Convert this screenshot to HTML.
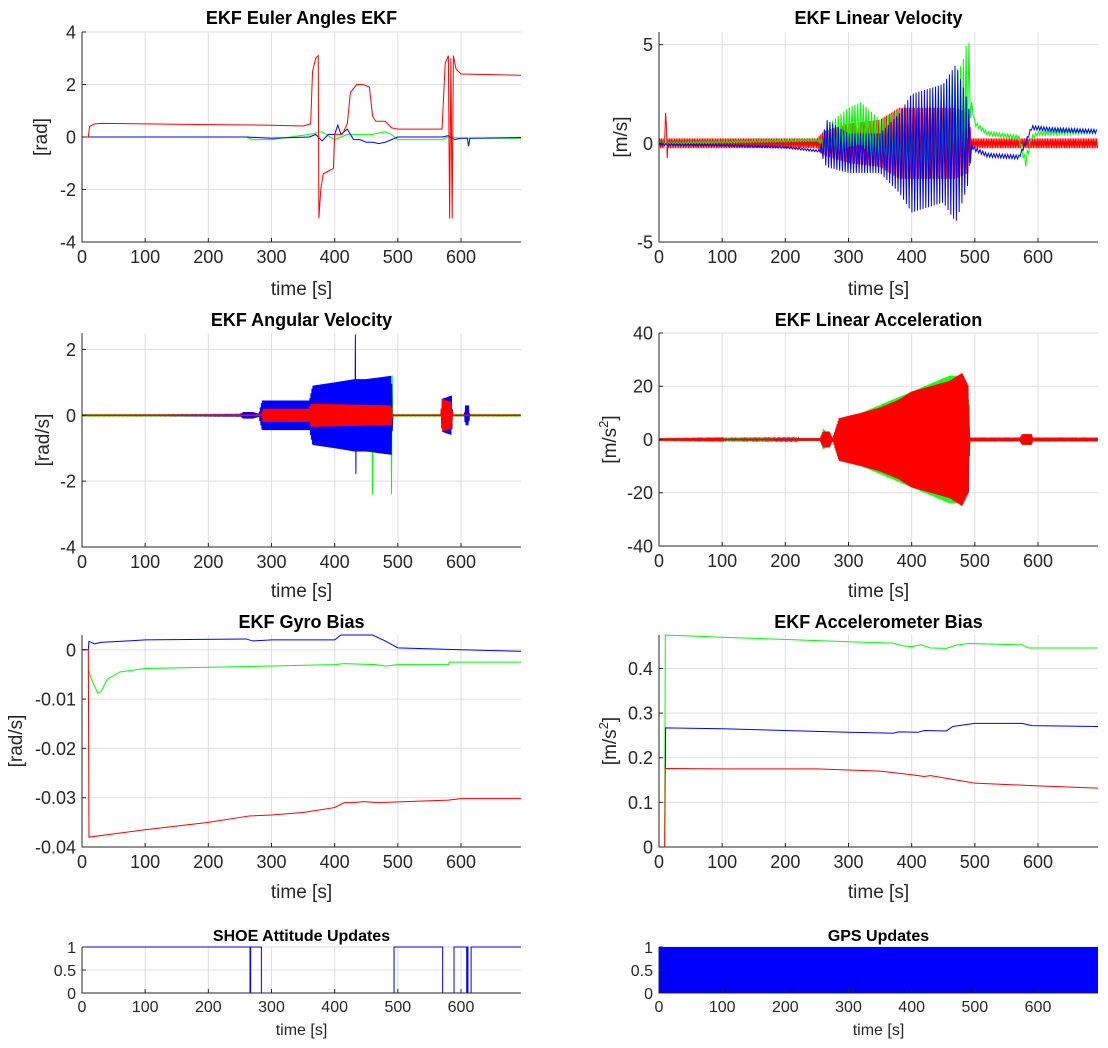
<!DOCTYPE html>
<html><head><meta charset="utf-8">
<style>
html,body{margin:0;padding:0;background:#fff;}
svg{display:block;font-family:"Liberation Sans",Arial,sans-serif;}
</style></head>
<body>
<svg id="fig" width="1108" height="1048" viewBox="0 0 1108 1048" xmlns="http://www.w3.org/2000/svg"></svg>
<script>
// ---------- shared axis data ----------
const xTicks = [0,100,200,300,400,500,600];
const xLim = [0,695];

// ---------- Panel 1: Euler angles ----------
const eulerRed = [[0,0],[10,0],[12,0.4],[20,0.5],[30,0.52],[100,0.5],[200,0.47],[300,0.45],[350,0.42],[362,0.5],[365,2.5],[370,3.0],[374,3.1],[375,-3.1],[378,-2.0],[382,-1.4],[390,-1.3],[398,-1.2],[400,0.1],[412,0.1],[420,0.5],[425,1.7],[435,2.0],[445,2.0],[455,1.9],[460,0.8],[465,0.6],[480,0.6],[490,0.35],[500,0.3],[570,0.3],[575,2.8],[580,3.1],[582,-3.1],[584,3.0],[586,-3.1],[588,3.1],[592,2.6],[600,2.4],[695,2.35]];
const eulerBlue = [[0,0],[260,0],[300,-0.05],[360,0],[370,0.1],[380,-0.15],[390,0.1],[400,0.1],[405,0.45],[410,0.1],[420,0.3],[430,-0.1],[440,-0.1],[450,-0.2],[460,-0.2],[470,-0.25],[480,-0.2],[490,-0.1],[500,0],[570,0],[580,0.05],[590,-0.1],[600,-0.05],[610,-0.05],[612,-0.35],[614,-0.05],[695,-0.02]];
const eulerGreen = [[0,0],[260,0],[270,-0.1],[300,-0.1],[360,0.1],[380,0.2],[400,-0.1],[420,0.1],[440,0.1],[460,0.1],[480,0.2],[490,0.1],[500,-0.1],[570,-0.1],[580,0],[600,-0.05],[695,-0.05]];

// ---------- Panel 2: linear velocity (base + noise envelope) ----------
const velRedBase = [[0,0],[10,0],[11,4.5],[12,-1],[14,0],[695,0]];
const velRedAmp = [[0,0.25],[250,0.25],[260,0.6],[300,1.0],[350,1.2],[380,1.8],[470,1.8],[490,1.5],[495,0.25],[695,0.25]];
const velGreenBase = [[0,0],[250,0.15],[260,0],[300,0.8],[320,1.0],[350,0],[380,0],[420,-0.5],[450,0.5],[480,1.5],[490,3],[500,1.0],[520,0.5],[570,0.3],[580,-1.0],[590,0.3],[600,0.5],[695,0.6]];
const velGreenAmp = [[0,0.05],[255,0.05],[265,0.8],[300,1.0],[350,1.2],[400,2.0],[450,2.5],[490,2.5],[495,0.1],[570,0.1],[580,0.3],[590,0.1],[695,0.1]];
const velBlueBase = [[0,-0.05],[100,-0.1],[200,-0.2],[255,-0.4],[265,0],[300,-0.5],[400,-0.5],[450,0],[490,0],[500,-0.3],[520,-0.6],[570,-0.7],[580,0],[590,0.8],[620,0.7],[695,0.6]];
const velBlueAmp = [[0,0.05],[255,0.05],[265,1.2],[300,1.0],[350,1.0],[380,2.0],[400,3.0],[450,3.0],[470,4.0],[490,2.0],[495,0.1],[695,0.1]];

// ---------- Panel 3: angular velocity ----------
const angZero = [[0,0],[695,0]];
const angGreenAmp = [[0,0.02],[285,0.02],[286,0.4],[360,0.4],[400,0.8],[459,0.9],[460,2.4],[461,0.9],[489,0.9],[490,2.4],[492,0.02],[695,0.02]];
const angBlueAmp = [[0,0],[250,0.02],[255,0.1],[270,0.1],[280,0.05],[285,0.45],[360,0.45],[365,0.9],[400,1.0],[432,1.1],[433,2.8],[434,1.1],[450,1.1],[490,1.2],[492,0],[568,0],[570,0.5],[585,0.6],[587,0],[605,0],[607,0.3],[612,0.3],[614,0],[695,0]];
const angRedAmp = [[0,0.01],[285,0.01],[286,0.2],[360,0.2],[362,0.35],[490,0.3],[492,0.01],[568,0.01],[570,0.5],[585,0.4],[587,0.01],[695,0.01]];

// ---------- Panel 4: linear acceleration ----------
const accBlueAmp = [[0,0.2],[255,0.5],[260,3],[275,0.5],[285,5],[350,8],[390,14],[440,15],[480,12],[490,10],[492,0.3],[570,0.3],[575,1.5],[590,1.5],[592,0.3],[695,0.3]];
const accGreenAmp = [[0,0.2],[255,0.5],[260,4],[275,0.5],[285,8],[320,10],[350,13],[400,18],[430,21],[460,24],[480,24],[490,20],[492,0.3],[570,0.3],[575,2],[590,2],[592,0.3],[695,0.3]];
const accRedAmp = [[0,0.2],[255,0.5],[260,3],[270,3],[275,0.5],[285,8],[320,10],[350,12],[380,15],[400,18],[430,20],[460,22],[480,25],[490,20],[492,0.3],[570,0.3],[575,2],[590,2],[592,0.3],[695,0.3]];

// ---------- Panel 5: gyro bias ----------
const gyroBlue = [[0,0],[10,0],[11,0.0017],[15,0.0015],[20,0.0012],[30,0.0015],[100,0.002],[260,0.0022],[270,0.0018],[300,0.002],[400,0.002],[410,0.003],[460,0.003],[480,0.0018],[500,0.0004],[600,0],[695,-0.0003]];
const gyroGreen = [[10,-0.004],[15,-0.006],[25,-0.0088],[30,-0.0085],[40,-0.006],[60,-0.0045],[100,-0.0038],[300,-0.0033],[400,-0.003],[415,-0.0028],[465,-0.003],[480,-0.0033],[500,-0.003],[580,-0.003],[582,-0.0025],[695,-0.0025]];
const gyroRed = [[0,0],[10,0],[11,-0.038],[100,-0.0365],[200,-0.035],[265,-0.0337],[300,-0.0335],[350,-0.033],[400,-0.032],[415,-0.031],[430,-0.031],[445,-0.0308],[470,-0.031],[580,-0.0305],[600,-0.0302],[695,-0.0302]];

// ---------- Panel 6: accelerometer bias ----------
const abGreen = [[0,0],[9,0],[10,0.475],[100,0.47],[300,0.46],[370,0.457],[385,0.451],[400,0.449],[415,0.453],[430,0.446],[455,0.445],[470,0.452],[490,0.456],[575,0.453],[585,0.446],[695,0.446]];
const abBlue = [[10,0.176],[10.5,0.267],[100,0.265],[300,0.257],[370,0.255],[380,0.258],[410,0.257],[420,0.261],[455,0.26],[465,0.27],[500,0.277],[575,0.277],[590,0.272],[695,0.27]];
const abRed = [[0,0],[9,0],[10,0.176],[100,0.175],[250,0.175],[350,0.17],[400,0.162],[420,0.158],[430,0.16],[480,0.148],[500,0.143],[600,0.137],[695,0.132]];

// ---------- Panel 7: SHOE updates (step starts) ----------
const shoeT = [0,266,267,284,494,571,589,609,610,611,613,616,695];
const shoeV = [1,0,1,0,1,0,1,0,1,0,0,1,1];

// ---------- Panel 8: GPS updates ----------
const gpsSpan = [0,695];
const gpsLevels = [0,1];

const NS = "http://www.w3.org/2000/svg";
const svg = document.getElementById('fig');
function mk(tag, attrs, parent){ const e=document.createElementNS(NS,tag); for(const k in attrs) e.setAttribute(k,attrs[k]); (parent||svg).appendChild(e); return e; }

function interp(arr,t){
  if(t<=arr[0][0]) return arr[0][1];
  for(let i=1;i<arr.length;i++){ if(t<=arr[i][0]){ const a=arr[i-1],b=arr[i]; const f=(b[0]-a[0])?(t-a[0])/(b[0]-a[0]):1; return a[1]+f*(b[1]-a[1]); } }
  return arr[arr.length-1][1];
}

function panel(cfg){
  const g = mk('g',{});
  
  
  const sx = t => cfg.x0 + (t-xLim[0])/(xLim[1]-xLim[0])*(cfg.x1-cfg.x0);
  const sy = v => cfg.y1 - (v-cfg.ylim[0])/(cfg.ylim[1]-cfg.ylim[0])*(cfg.y1-cfg.y0);
  const fs = cfg.small?16:18;
  xTicks.forEach(t=>{ const l=mk('line',{x1:sx(t),x2:sx(t),y1:cfg.y0,y2:cfg.y1,stroke:'#dfdfdf','stroke-width':1},g);   });
  cfg.yticks.forEach(v=>{ const l=mk('line',{x1:cfg.x0,x2:cfg.x1,y1:sy(v),y2:sy(v),stroke:'#dfdfdf','stroke-width':1},g);   });
  const clipId='c'+cfg.name;
  const cp=mk('clipPath',{id:clipId},g); mk('rect',{x:cfg.x0,y:cfg.y0-1,width:cfg.x1-cfg.x0,height:cfg.y1-cfg.y0+2},cp);
  const sg=mk('g',{'clip-path':'url(#'+clipId+')'},g);
  cfg.draw(sg,sx,sy);
  const ax=mk('path',{d:`M${cfg.x0},${cfg.y0}V${cfg.y1}H${cfg.x1}`,fill:'none',stroke:'#262626','stroke-width':1},g);
   
  xTicks.forEach(t=>{ mk('line',{x1:sx(t),x2:sx(t),y1:cfg.y1,y2:cfg.y1-4,stroke:'#262626'},g);
    const tx=mk('text',{x:sx(t),y:cfg.y1+fs+3,'font-size':fs,fill:'#262626','text-anchor':'middle'},g); tx.textContent=t;
      });
  cfg.yticks.forEach((v,i)=>{ mk('line',{x1:cfg.x0,x2:cfg.x0+4,y1:sy(v),y2:sy(v),stroke:'#262626'},g);
    const tx=mk('text',{x:cfg.x0-6,y:sy(v)+fs*0.36,'font-size':fs,fill:'#262626','text-anchor':'end'},g); tx.textContent=cfg.ylabels[i];
      });
  const tt=mk('text',{x:(cfg.x0+cfg.x1)/2,y:cfg.ty,'font-size':cfg.small?16:18,'font-weight':'bold',fill:'#000','text-anchor':'middle'},g); tt.textContent=cfg.title;
   
  const xl=mk('text',{x:(cfg.x0+cfg.x1)/2,y:cfg.xly,'font-size':cfg.small?16:19,fill:'#262626','text-anchor':'middle'},g); xl.textContent='time [s]';
   
  if(cfg.ylab){ const cy=(cfg.y0+cfg.y1)/2;
    const yl=mk('text',{x:cfg.ylx,y:cy,'font-size':19,fill:'#262626','text-anchor':'middle',transform:`rotate(-90 ${cfg.ylx} ${cy})`},g);
     
    if(cfg.ylab==='acc'){ yl.textContent='[m/s'; const sp=mk('tspan',{'font-size':13,dy:-8},yl); sp.textContent='2'; const sp2=mk('tspan',{dy:8},yl); sp2.textContent=']'; }
    else yl.textContent=cfg.ylab; }
}

function line(g,sx,sy,arr,color,name){
  const d=arr.map((p,i)=>(i?'L':'M')+sx(p[0]).toFixed(2)+','+sy(p[1]).toFixed(2)).join('');
  const p=mk('path',{d,fill:'none',stroke:color,'stroke-width':1},g);
   
}
function noisy(g,sx,sy,base,amp,color,name,step){
  let d='',k=0;
  for(let t=xLim[0]; t<=xLim[1]; t+=step, k++){
    const v=interp(base,t)+(k%2?1:-1)*interp(amp,t);
    d+=(k?'L':'M')+sx(t).toFixed(2)+','+sy(v).toFixed(2);
  }
  const p=mk('path',{d,fill:'none',stroke:color,'stroke-width':1},g);
   
}

const R='#ff0000',G='#00ff00',B='#0000ff';
const L={x0:82,x1:521}, Rt={x0:659,x1:1098};

panel({name:'euler-angles-chart',...L,y0:32,y1:242,ylim:[-4,4],yticks:[-4,-2,0,2,4],ylabels:['-4','-2','0','2','4'],title:'EKF Euler Angles EKF',ty:24,xly:295,ylab:'[rad]',ylx:47,
  draw:(g,sx,sy)=>{ line(g,sx,sy,eulerGreen,G,'euler-green'); line(g,sx,sy,eulerBlue,B,'euler-blue'); line(g,sx,sy,eulerRed,R,'euler-red'); }});
panel({name:'linear-velocity-chart',...Rt,y0:32,y1:242,ylim:[-5,5.64],yticks:[-5,0,5],ylabels:['-5','0','5'],title:'EKF Linear Velocity',ty:24,xly:295,ylab:'[m/s]',ylx:627,
  draw:(g,sx,sy)=>{ noisy(g,sx,sy,velRedBase,velRedAmp,R,'velocity-red',1.3); noisy(g,sx,sy,velGreenBase,velGreenAmp,G,'velocity-green',2.2); noisy(g,sx,sy,velBlueBase,velBlueAmp,B,'velocity-blue',2.2); }});
panel({name:'angular-velocity-chart',...L,y0:333,y1:547,ylim:[-4,2.5],yticks:[-4,-2,0,2],ylabels:['-4','-2','0','2'],title:'EKF Angular Velocity',ty:326,xly:597,ylab:'[rad/s]',ylx:49,
  draw:(g,sx,sy)=>{ noisy(g,sx,sy,angZero,angGreenAmp,G,'angular-green',1); noisy(g,sx,sy,angZero,angBlueAmp,B,'angular-blue',0.8); noisy(g,sx,sy,angZero,angRedAmp,R,'angular-red',0.8); }});
panel({name:'linear-acceleration-chart',...Rt,y0:333,y1:546,ylim:[-40,40],yticks:[-40,-20,0,20,40],ylabels:['-40','-20','0','20','40'],title:'EKF Linear Acceleration',ty:326,xly:597,ylab:'acc',ylx:616,
  draw:(g,sx,sy)=>{ noisy(g,sx,sy,angZero,accBlueAmp,B,'accel-blue',1); noisy(g,sx,sy,angZero,accGreenAmp,G,'accel-green',0.9); noisy(g,sx,sy,angZero,accRedAmp,R,'accel-red',0.7); }});
panel({name:'gyro-bias-chart',...L,y0:635,y1:847,ylim:[-0.04,0.003],yticks:[-0.04,-0.03,-0.02,-0.01,0],ylabels:['-0.04','-0.03','-0.02','-0.01','0'],title:'EKF Gyro Bias',ty:628,xly:898,ylab:'[rad/s]',ylx:22,
  draw:(g,sx,sy)=>{ line(g,sx,sy,gyroBlue,B,'gyro-blue'); line(g,sx,sy,gyroGreen,G,'gyro-green'); line(g,sx,sy,gyroRed,R,'gyro-red'); }});
panel({name:'accel-bias-chart',...Rt,y0:635,y1:847,ylim:[0,0.475],yticks:[0,0.1,0.2,0.3,0.4],ylabels:['0','0.1','0.2','0.3','0.4'],title:'EKF Accelerometer Bias',ty:628,xly:898,ylab:'acc',ylx:616,
  draw:(g,sx,sy)=>{ line(g,sx,sy,abGreen,G,'accel-bias-green'); line(g,sx,sy,abBlue,B,'accel-bias-blue'); line(g,sx,sy,abRed,R,'accel-bias-red'); }});
panel({name:'shoe-updates-chart',...L,y0:947,y1:993,ylim:[0,1],yticks:[0,0.5,1],ylabels:['0','0.5','1'],title:'SHOE Attitude Updates',ty:941,xly:1035,small:true,
  draw:(g,sx,sy)=>{ const pts=[]; for(let i=0;i<shoeT.length;i++){ if(i) pts.push([shoeT[i],shoeV[i-1]]); pts.push([shoeT[i],shoeV[i]]); } line(g,sx,sy,pts,B,'shoe-updates-line'); }});
panel({name:'gps-updates-chart',...Rt,y0:947,y1:993,ylim:[0,1],yticks:[0,0.5,1],ylabels:['0','0.5','1'],title:'GPS Updates',ty:941,xly:1035,small:true,
  draw:(g,sx,sy)=>{ const r=mk('rect',{x:sx(gpsSpan[0]),y:sy(gpsLevels[1]),width:sx(gpsSpan[1])-sx(gpsSpan[0]),height:sy(gpsLevels[0])-sy(gpsLevels[1]),fill:B},g);
      }});
</script>
</body></html>
